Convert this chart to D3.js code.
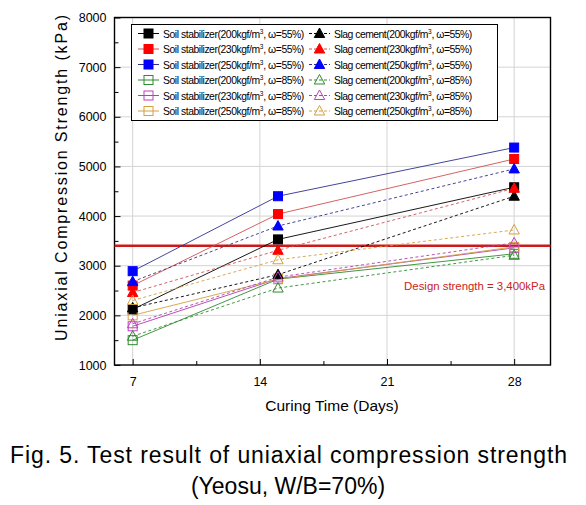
<!DOCTYPE html>
<html><head><meta charset="utf-8">
<script src="https://cdn.jsdelivr.net/npm/d3@7"></script>
<style>body{margin:0;background:#fff}svg{display:block}text{font-family:"Liberation Sans",Arial,sans-serif}</style>
</head><body>
<svg id="c" width="586" height="505"></svg>
<script>
const days = [7, 15, 28];
const soil200_55 = [2120, 3530, 4580];
const soil230_55 = [2600, 4040, 5150];
const soil250_55 = [2890, 4400, 5380];
const soil200_85 = [1500, 2730, 3240];
const soil230_85 = [1780, 2740, 3360];
const soil250_85 = [2000, 2730, 3380];
const slag200_55 = [2150, 2820, 4400];
const slag230_55 = [2460, 3310, 4560];
const slag250_55 = [2680, 3800, 4950];
const slag200_85 = [1580, 2550, 3210];
const slag230_85 = [1830, 2770, 3460];
const slag250_85 = [2300, 3120, 3720];
const designStrength = 3400;
const xTicks = [7, 14, 21, 28];
const yTicks = [1000, 2000, 3000, 4000, 5000, 6000, 7000, 8000];

const series = [
  {name:"Soil stabilizer(200kgf/m", w:"55", v:soil200_55, c:"#000000", lc:"#000000", shape:"square", fill:true, dash:false},
  {name:"Soil stabilizer(230kgf/m", w:"55", v:soil230_55, c:"#ff0000", lc:"#d05050", shape:"square", fill:true, dash:false},
  {name:"Soil stabilizer(250kgf/m", w:"55", v:soil250_55, c:"#0000ff", lc:"#30308f", shape:"square", fill:true, dash:false},
  {name:"Soil stabilizer(200kgf/m", w:"85", v:soil200_85, c:"#2f8a2f", lc:"#2f8a2f", shape:"square", fill:false, dash:false},
  {name:"Soil stabilizer(230kgf/m", w:"85", v:soil230_85, c:"#c040c0", lc:"#b040b0", shape:"square", fill:false, dash:false},
  {name:"Soil stabilizer(250kgf/m", w:"85", v:soil250_85, c:"#d4a040", lc:"#d4a040", shape:"square", fill:false, dash:false},
  {name:"Slag cement(200kgf/m", w:"55", v:slag200_55, c:"#000000", lc:"#000000", shape:"tri", fill:true, dash:true},
  {name:"Slag cement(230kgf/m", w:"55", v:slag230_55, c:"#ff0000", lc:"#d05050", shape:"tri", fill:true, dash:true},
  {name:"Slag cement(250kgf/m", w:"55", v:slag250_55, c:"#0000ff", lc:"#30308f", shape:"tri", fill:true, dash:true},
  {name:"Slag cement(200kgf/m", w:"85", v:slag200_85, c:"#2f8a2f", lc:"#2f8a2f", shape:"tri", fill:false, dash:true},
  {name:"Slag cement(230kgf/m", w:"85", v:slag230_85, c:"#c040c0", lc:"#b040b0", shape:"tri", fill:false, dash:true},
  {name:"Slag cement(250kgf/m", w:"85", v:slag250_85, c:"#d4a040", lc:"#d4a040", shape:"tri", fill:false, dash:true}
];

const svg = d3.select("#c");
const L = 114.5, R = 550.5, T = 17.5, B = 365;
const x = d3.scaleLinear().domain([6, 30]).range([L, R]);
const y = d3.scaleLinear().domain([1000, 8000]).range([B, T]);

// grid
const g = svg.append("g");
g.selectAll(".gx").data(xTicks).join("line")
  .attr("x1", d => x(d)).attr("x2", d => x(d)).attr("y1", T).attr("y2", B)
  .attr("stroke", "#d4d4d4").attr("stroke-width", 1);
g.selectAll(".gy").data(yTicks.slice(1, -1)).join("line")
  .attr("x1", L).attr("x2", R).attr("y1", d => y(d)).attr("y2", d => y(d))
  .attr("stroke", "#d4d4d4").attr("stroke-width", 1);

// axes
const xAxis = d3.axisBottom(x).tickValues(xTicks).tickSizeInner(-6).tickSizeOuter(0).tickPadding(12);
const xMinor = d3.axisBottom(x).tickValues([10.5, 17.5, 24.5]).tickSize(-4).tickFormat("");
const yAxis = d3.axisLeft(y).tickValues(yTicks).tickSizeInner(-6).tickSizeOuter(0).tickPadding(8).tickFormat(d3.format("d"));
const yMinor = d3.axisLeft(y).tickValues(d3.range(1500, 8000, 1000)).tickSize(-4).tickFormat("");

function styleAxis(sel){
  sel.select(".domain").remove();
  sel.selectAll("line").attr("stroke", "#000").attr("stroke-width", 1);
  sel.selectAll("text").attr("font-size", "12.5px").attr("fill", "#000").style("font-family", "'Liberation Sans', Arial, sans-serif");
}
svg.append("g").attr("transform", `translate(0,${B})`).call(xAxis).call(styleAxis);
svg.append("g").attr("transform", `translate(0,${B})`).call(xMinor).call(styleAxis);
svg.append("g").attr("transform", `translate(${L},0)`).call(yAxis).call(styleAxis);
svg.append("g").attr("transform", `translate(${L},0)`).call(yMinor).call(styleAxis);

// frame
svg.append("rect").attr("x", L).attr("y", T).attr("width", R - L).attr("height", B - T)
  .attr("fill", "none").attr("stroke", "#000").attr("stroke-width", 1.4);

// design line
svg.append("line").attr("x1", L).attr("x2", R).attr("y1", y(designStrength)).attr("y2", y(designStrength))
  .attr("stroke", "#cc1a1a").attr("stroke-width", 2.5);
svg.append("text").attr("x", 545).attr("y", 290).attr("text-anchor", "end")
  .attr("font-size", "11.4px").attr("fill", "#cc2222").text("Design strength = 3,400kPa");

// series lines
const line = d3.line().x((d, i) => x(days[i])).y(d => y(d));
series.forEach(s => {
  svg.append("path").attr("d", line(s.v)).attr("fill", "none")
    .attr("stroke", s.lc).attr("stroke-width", 0.9)
    .attr("stroke-dasharray", s.dash ? "3,2.5" : null);
});

function marker(sel, s, cx, cy){
  if (s.shape === "square") {
    sel.append("rect").attr("x", cx - 4.5).attr("y", cy - 4.5).attr("width", 9).attr("height", 9)
      .attr("fill", s.fill ? s.c : "none")
      .attr("stroke", s.c).attr("stroke-width", 1);
  } else {
    const p = `M${cx},${cy - 5.5}L${cx + 5.2},${cy + 4}L${cx - 5.2},${cy + 4}Z`;
    sel.append("path").attr("d", p)
      .attr("fill", s.fill ? s.c : "none")
      .attr("stroke", s.c).attr("stroke-width", 1);
  }
}
const mg = svg.append("g");
series.forEach(s => s.v.forEach((v, i) => marker(mg, s, x(days[i]), y(v))));

// legend
const lg = svg.append("g");
lg.append("rect").attr("x", 131.5).attr("y", 24.5).attr("width", 366).attr("height", 96)
  .attr("fill", "#fff").attr("stroke", "#000").attr("stroke-width", 1);
series.forEach((s, k) => {
  const col = k < 6 ? 0 : 1;
  const row = k % 6;
  const cy = 33.5 + row * 15.5;
  const x0 = col === 0 ? 138 : 309;
  lg.append("line").attr("x1", x0).attr("x2", x0 + 21).attr("y1", cy).attr("y2", cy)
    .attr("stroke", s.lc).attr("stroke-width", 1).attr("stroke-dasharray", s.dash ? "3,2" : null);
  marker(lg, s, x0 + 10.5, cy);
  const t = lg.append("text").attr("x", x0 + 25).attr("y", cy + 4)
    .attr("font-size", "10.4px").attr("fill", "#000").attr("letter-spacing", col === 0 ? "-0.45px" : "-0.5px");
  t.append("tspan").text(s.name);
  t.append("tspan").attr("dy", -4).attr("font-size", "6.5px").attr("letter-spacing", "0px").text("3");
  t.append("tspan").attr("dy", 4).text(", ω=" + s.w + "%)");
});

// axis titles
svg.append("text").attr("x", 332).attr("y", 411).attr("text-anchor", "middle")
  .attr("font-size", "15.5px").attr("fill", "#000").text("Curing Time (Days)");
svg.append("text").attr("transform", "translate(67,178) rotate(-90)").attr("text-anchor", "middle")
  .attr("font-size", "16px").attr("fill", "#000")
  .attr("textLength", 326).attr("lengthAdjust", "spacing")
  .text("Uniaxial Compression Strength (kPa)");

// caption
svg.append("text").attr("x", 10).attr("y", 462.5).attr("font-size", "23px").attr("fill", "#000")
  .attr("textLength", 557).attr("lengthAdjust", "spacing")
  .text("Fig. 5. Test result of uniaxial compression strength");
svg.append("text").attr("x", 288).attr("y", 494).attr("text-anchor", "middle").attr("font-size", "23px").attr("fill", "#000")
  .text("(Yeosu, W/B=70%)");
</script>
</body></html>
